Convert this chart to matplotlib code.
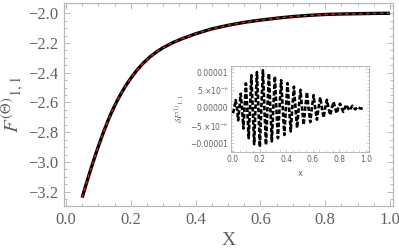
import matplotlib
matplotlib.use("Agg")
import matplotlib.pyplot as plt
from matplotlib.ticker import MultipleLocator

# ---- main curve data ----
main_x = [0.05, 0.06, 0.07, 0.08, 0.09, 0.10, 0.11, 0.12, 0.13, 0.14, 0.15, 0.16,
          0.17, 0.18, 0.19, 0.20, 0.22, 0.24, 0.26, 0.28, 0.30, 0.33, 0.36, 0.40,
          0.45, 0.50, 0.55, 0.60, 0.65, 0.70, 0.75, 0.80, 0.85, 0.90, 0.95, 1.00]
main_y = [-3.24, -3.166, -3.095, -3.026, -2.959, -2.895, -2.834, -2.776, -2.721,
          -2.67, -2.623, -2.58, -2.54, -2.503, -2.469, -2.437, -2.38, -2.332,
          -2.292, -2.259, -2.231, -2.197, -2.17, -2.138, -2.105, -2.081, -2.061,
          -2.046, -2.033, -2.022, -2.014, -2.008, -2.005, -2.003, -2.001, -2.0]

# ---- inset data: extremes and zero crossings, units 1e-6 ----
inset_x = [0.0, 0.01, 0.02, 0.03, 0.039, 0.048, 0.058, 0.068, 0.078, 0.087, 0.097,
           0.107, 0.118, 0.128, 0.138, 0.148, 0.159, 0.169, 0.18, 0.191, 0.202,
           0.213, 0.225, 0.236, 0.248, 0.259, 0.27, 0.281, 0.292, 0.303, 0.315,
           0.326, 0.338, 0.35, 0.362, 0.374, 0.386, 0.398, 0.41, 0.422, 0.434,
           0.446, 0.458, 0.47, 0.482, 0.494, 0.507, 0.519, 0.531, 0.543, 0.556,
           0.568, 0.581, 0.593, 0.606, 0.618, 0.631, 0.643, 0.656, 0.668, 0.681,
           0.693, 0.706, 0.718, 0.731, 0.743, 0.756, 0.768, 0.78, 0.792, 0.805,
           0.817, 0.829, 0.841, 0.853, 0.864, 0.876, 0.887, 0.898, 0.909, 0.92,
           0.93, 0.94, 0.95, 0.96, 0.985]
inset_y_e6 = [-1.5, 0, 2.2, 0, -3.5, 0, 4.0, 0, -5.8, 0, 6.9,
              0, -8.5, 0, 9.2, 0, -10.2, 0, 10.1, 0, -11.0,
              0, 10.6, 0, -10.4, 0, 9.7, 0, -9.4, 0, 8.9,
              0, -8.5, 0, 7.8, 0, -7.6, 0, 7.0, 0, -6.6,
              0, 6.0, 0, -5.6, 0, 5.1, 0, -4.8, 0, 4.4,
              0, -4.0, 0, 3.6, 0, -3.3, 0, 3.0, 0, -2.7,
              0, 2.3, 0, -2.0, 0, 1.7, 0, -1.5, 0, 1.2,
              0, -1.1, 0, 0.9, 0, -0.7, 0, 0.6, 0, -0.4,
              0, 0.3, 0, -0.2, 0.0]

main_xticks = [0.0, 0.2, 0.4, 0.6, 0.8, 1.0]
main_yticks = [-2.0, -2.2, -2.4, -2.6, -2.8, -3.0, -3.2]
inset_xticks = [0.0, 0.2, 0.4, 0.6, 0.8, 1.0]
inset_yticks = [1e-5, 5e-6, 0.0, -5e-6, -1e-5]
inset_yticklabels = ["0.00001", "5.×10$^{-6}$", "0.00000", "−5.×10$^{-6}$", "−0.00001"]

plt.rcParams['mathtext.fontset'] = 'stix'

frame_col = (0.72, 0.72, 0.72)
lab_col = (0.38, 0.38, 0.38)

fig = plt.figure(figsize=(3.99, 2.52), dpi=100)
ax = fig.add_axes([64/399, 1-206/252, (393-64)/399, (206-3.3)/252])
ax.plot(main_x, main_y, color='black', lw=2.4, solid_capstyle='butt',
        solid_joinstyle='round', zorder=2)
ax.plot(main_x, main_y, color='#e02020', lw=1.0, linestyle=(0, (2.5, 2.5)), zorder=3)
ax.set_xlim(-0.006, 1.009)
ax.set_ylim(-3.296, -1.933)
ax.set_xticks(main_xticks)
ax.set_xticklabels([f"{t:.1f}" for t in main_xticks])
ax.set_yticks(main_yticks)
ax.set_yticklabels([f"{t:.1f}".replace("-", "−") for t in main_yticks])
ax.xaxis.set_minor_locator(MultipleLocator(0.05))
ax.yaxis.set_minor_locator(MultipleLocator(0.05))
for sp in ax.spines.values():
    sp.set_color(frame_col)
    sp.set_linewidth(0.9)
ax.tick_params(which='both', direction='in', top=True, right=True, color=frame_col, width=0.7)
ax.tick_params(which='major', length=4, pad=4)
ax.tick_params(which='minor', length=2)
for lab in ax.get_xticklabels() + ax.get_yticklabels():
    lab.set_family('Liberation Serif')
    lab.set_fontsize(12)
    lab.set_color(lab_col)
ax.set_xlabel("X", family='Liberation Serif', fontsize=14, color=lab_col, labelpad=3)
ax.set_ylabel(r"$F^{(\Theta)}{}_{1,1}$", fontsize=15, color=lab_col, labelpad=2)

# ---- inset ----
ins = fig.add_axes([231/399, 1-152/252, (369-231)/399, (152-66)/252])
ins.plot(inset_x, [v*1e-6 for v in inset_y_e6], color='black', lw=1.9,
         linestyle=(0, (1.7, 0.8)), solid_joinstyle='round')
ins.set_xlim(-0.015, 1.0226)
ins.set_ylim(-12.4e-6, 11.8e-6)
ins.set_xticks(inset_xticks)
ins.set_xticklabels([f"{t:.1f}" for t in inset_xticks])
ins.set_yticks(inset_yticks)
ins.set_yticklabels(inset_yticklabels)
ins.xaxis.set_minor_locator(MultipleLocator(0.05))
ins.yaxis.set_minor_locator(MultipleLocator(1e-6))
for sp in ins.spines.values():
    sp.set_color(frame_col)
    sp.set_linewidth(0.7)
ins.tick_params(which='both', direction='in', top=True, right=True, color=frame_col, width=0.5)
ins.tick_params(which='major', length=2.5, pad=2, labelsize=5.5, labelcolor=lab_col)
ins.tick_params(which='minor', length=1.2)
ins.set_xlabel("x", fontsize=6, color=lab_col, labelpad=4)
ins.set_ylabel(r"$\delta F^{(1)}{}_{1,1}$", fontsize=6.5, color=lab_col, labelpad=2)

fig.savefig("out.png", dpi=100)
